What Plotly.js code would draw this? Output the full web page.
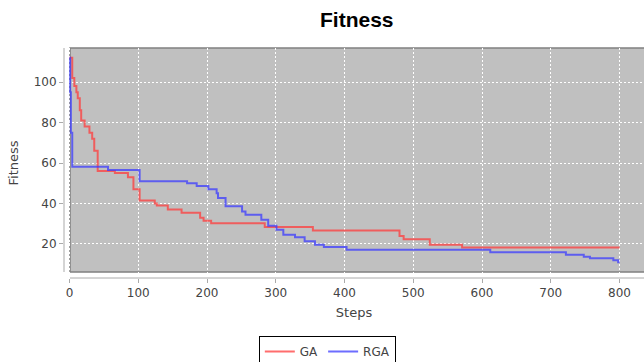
<!DOCTYPE html>
<html>
<head>
<meta charset="utf-8">
<script src="https://cdn.plot.ly/plotly-3.0.1.min.js"></script>
<style>html,body{margin:0;padding:0;background:#fff;}#chart{width:644px;height:362px;}</style>
</head>
<body>
<div id="chart"></div>
<script>
// GA series (step, fitness) breakpoints
const gaSteps = [0, 4, 7, 10, 12, 15, 17, 22, 29, 33, 36, 41, 66, 85, 93, 102, 124, 127, 143, 163, 190, 195, 206, 284, 354, 480, 486, 524, 571, 800];
const gaFitness = [112, 102, 98, 95, 92, 86, 81, 78, 75, 72, 66, 56, 55, 53, 47, 41.5, 40, 39, 37, 35.4, 33, 31.5, 30.3, 28.4, 26.7, 24, 22.4, 19.6, 18.3, 18.3];
// RGA series
const rgaSteps = [0, 1, 2, 4, 56, 102, 171, 185, 202, 214, 216, 227, 251, 256, 279, 289, 301, 311, 328, 342, 357, 370, 403, 612, 722, 748, 757, 791, 798, 800];
const rgaFitness = [112, 95, 75, 58.2, 56.5, 51, 50, 48.6, 47, 45, 42.7, 38.6, 36, 34.5, 32, 29, 27, 24.6, 23.3, 21.3, 19.6, 18.5, 17.2, 15.9, 14.7, 13.7, 12.9, 12, 11, 11];
const xTicks = [0, 100, 200, 300, 400, 500, 600, 700, 800];
const yTicks = [20, 40, 60, 80, 100];

const font = 'DejaVu Sans, Verdana, sans-serif';
const traces = [
  {x: gaSteps, y: gaFitness, name: 'GA', type: 'scatter', mode: 'lines',
   line: {shape: 'hv', color: 'rgba(255,60,60,0.75)', width: 2}},
  {x: rgaSteps, y: rgaFitness, name: 'RGA', type: 'scatter', mode: 'lines',
   line: {shape: 'hv', color: 'rgba(60,60,255,0.75)', width: 2}}
];
const layout = {
  width: 644, height: 362,
  margin: {l: 64, r: 0, t: 48, b: 84, autoexpand: false},
  paper_bgcolor: '#ffffff', plot_bgcolor: '#ffffff',
  title: {text: '<b>Fitness</b>', font: {family: 'Liberation Sans, Arial, sans-serif', size: 21, color: '#000'},
          x: 0.554, xref: 'container', xanchor: 'center', y: 0.945, yref: 'container', yanchor: 'middle'},
  xaxis: {range: [-8, 835.6], tickvals: xTicks, ticktext: xTicks.map(String), automargin: false,
          showgrid: true, gridcolor: '#ffffff', griddash: '2px,2px', gridwidth: 1,
          zeroline: false, showline: false, ticks: 'outside', ticklen: 4, tickcolor: '#aaaaaa',
          tickfont: {family: font, size: 12, color: '#444'},
          title: {text: 'Steps', font: {family: font, size: 13, color: '#444'}, standoff: 8}},
  yaxis: {range: [3.2, 116.8], tickvals: yTicks, ticktext: yTicks.map(String), automargin: false,
          showgrid: true, gridcolor: '#ffffff', griddash: '2px,2px', gridwidth: 1,
          zeroline: false, showline: false, ticks: 'outside', ticklen: 4, tickcolor: '#aaaaaa',
          tickfont: {family: font, size: 12, color: '#444'},
          title: {text: 'Fitness', font: {family: font, size: 13, color: '#444'}, standoff: 12}},
  shapes: [
    {type: 'rect', xref: 'paper', yref: 'paper', x0: 6/580, x1: 1.05, y0: 6/230, y1: 1,
     fillcolor: '#c0c0c0', line: {width: 0}, layer: 'below'},
    {type: 'rect', xref: 'paper', yref: 'paper', x0: 6/580, x1: 1.05, y0: 6/230, y1: 1,
     fillcolor: 'rgba(0,0,0,0)', line: {width: 1.5, color: '#808080'}, layer: 'between'},
    {type: 'line', xref: 'paper', yref: 'paper', x0: 6/580, x1: 1, y0: 0, y1: 0,
     line: {width: 1, color: '#aaaaaa'}},
    {type: 'line', xref: 'paper', yref: 'paper', x0: 0, x1: 0, y0: 6/230, y1: 1,
     line: {width: 1, color: '#aaaaaa'}}
  ],
  showlegend: true,
  legend: {orientation: 'h', x: 0.454, xanchor: 'center', y: -0.252, yanchor: 'top',
           bordercolor: '#000', borderwidth: 1, bgcolor: '#fff',
           font: {family: font, size: 12, color: '#444'}, itemwidth: 30, tracegroupgap: 0}
};
Plotly.newPlot('chart', traces, layout, {displayModeBar: false, staticPlot: true});
</script>
</body>
</html>
